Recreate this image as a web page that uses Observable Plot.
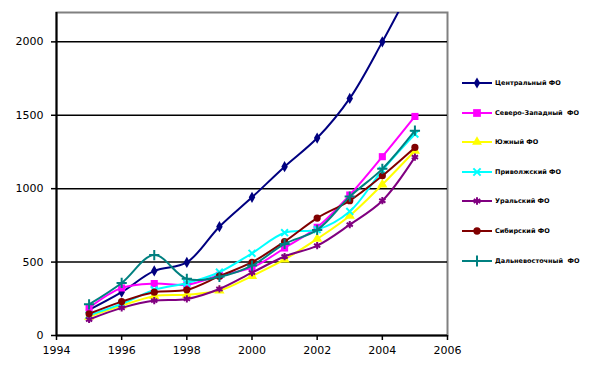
<!DOCTYPE html>
<html><head><meta charset="utf-8">
<script src="https://cdn.jsdelivr.net/npm/d3@7"></script>
<script src="https://cdn.jsdelivr.net/npm/@observablehq/plot@0.6"></script>
<style>
body{margin:0;background:#fff;}
#wrap{position:relative;width:593px;height:374px;overflow:hidden;}
#legend{position:absolute;left:0;top:0;font-family:"DejaVu Sans",sans-serif;font-size:6.5px;font-weight:bold;color:#000;}
.item{position:absolute;white-space:pre;display:flex;align-items:center;height:12px;}
.item span{letter-spacing:0px;margin-left:3px;}
</style></head><body><div id="wrap"><div id="chart"></div><div id="legend"></div></div>
<script>
const years = [1995, 1996, 1997, 1998, 1999, 2000, 2001, 2002, 2003, 2004, 2005];
const central   = [175, 295, 440, 498, 741, 941, 1150, 1345, 1615, 2000, 2420];
const northwest = [188, 324, 354, 345, 410, 462, 596, 737, 957, 1218, 1492];
const south     = [128, 204, 268, 278, 306, 405, 518, 658, 816, 1028, 1258];
const volga     = [138, 215, 311, 357, 431, 560, 700, 721, 845, 1125, 1372];
const ural      = [109, 188, 238, 249, 317, 428, 538, 612, 755, 918, 1215];
const siberia   = [148, 231, 295, 311, 404, 499, 640, 800, 918, 1088, 1281];
const fareast   = [212, 358, 548, 386, 400, 476, 624, 719, 946, 1135, 1395];

const names = ["Центральный ФО", "Северо-Западный  ФО", "Южный ФО", "Приволжский ФО", "Уральский ФО", "Сибирский ФО", "Дальневосточный  ФО"];
const colors = ["#000080", "#FF00FF", "#FFFF00", "#00FFFF", "#800080", "#800000", "#008080"];
const symbols = ["diamond", "square", "triangle", "times", "asterisk", "circle", "plus"];
const strokeSymbols = ["times", "asterisk", "plus"];
const series = [central, northwest, south, volga, ural, siberia, fareast];
const yTicks = [0, 500, 1000, 1500, 2000];
const xTicks = [1994, 1996, 1998, 2000, 2002, 2004, 2006];

const rows = series.flatMap((vals, i) => vals.map((v, j) => ({year: years[j], value: v, region: names[i]})));

const seriesMarks = names.flatMap((name, i) => {
  const data = rows.filter(r => r.region === name);
  const isStroke = strokeSymbols.includes(symbols[i]);
  const sizes = {square: 4, circle: 3.6, diamond: 3.4, triangle: 3.8, times: 3.2, asterisk: 3.4, plus: 3.4};
  return [
    Plot.line(data, {x: "year", y: "value", stroke: colors[i], strokeWidth: 2, curve: "catmull-rom", clip: true}),
    Plot.dot(data, isStroke
      ? {x: "year", y: "value", symbol: () => symbols[i], stroke: colors[i], strokeWidth: 2, r: sizes[symbols[i]], clip: true}
      : {x: "year", y: "value", symbol: () => symbols[i], fill: colors[i], stroke: "none", r: sizes[symbols[i]], clip: true})
  ];
});

const chart = Plot.plot({
  width: 593,
  height: 374,
  marginLeft: 56,
  marginRight: 146,
  marginTop: 12,
  marginBottom: 39,
  style: {fontFamily: "DejaVu Sans, sans-serif", fontSize: "11px", color: "#000", background: "#fff"},
  x: {domain: [1994, 2006]},
  y: {domain: [0, 2200]},
  symbol: {type: "identity"},
  marks: [
    Plot.frame({stroke: "#808080", strokeWidth: 2}),
    Plot.ruleY(yTicks.filter(d => d > 0), {stroke: "#000", strokeWidth: 1.5}),
    ...seriesMarks,
    Plot.ruleY([0], {stroke: "#000", strokeWidth: 2}),
    Plot.ruleX([1994], {stroke: "#000", strokeWidth: 2}),
    Plot.axisY({ticks: yTicks, tickSize: 5, tickPadding: 8, tickFormat: d => String(d), label: null, strokeWidth: 1.5}),
    Plot.axisX({ticks: xTicks, tickSize: 5, tickPadding: 6, tickFormat: d => String(d), label: null, strokeWidth: 1.5})
  ]
});
document.getElementById("chart").appendChild(chart);

// legend
const legend = document.getElementById("legend");
const legendY = [83, 113, 142, 172, 201, 231, 261];
names.forEach((name, i) => {
  const item = document.createElement("div");
  item.className = "item";
  item.style.left = "462px";
  item.style.top = (legendY[i] - 6) + "px";
  const isStroke = strokeSymbols.includes(symbols[i]);
  const symMap = {diamond: d3.symbolDiamond, square: d3.symbolSquare, triangle: d3.symbolTriangle, times: d3.symbolTimes, asterisk: d3.symbolAsterisk, circle: d3.symbolCircle, plus: d3.symbolPlus};
  const sizeMap = {diamond: 36, square: 60, triangle: 42, times: 36, asterisk: 40, circle: 42, plus: 40};
  const path = d3.symbol(symMap[symbols[i]], sizeMap[symbols[i]])();
  item.innerHTML = `<svg width="30" height="12" style="display:block"><line x1="0" x2="30" y1="6" y2="6" stroke="${colors[i]}" stroke-width="2"/><path transform="translate(15,6)" d="${path}" ${isStroke ? `fill="none" stroke="${colors[i]}" stroke-width="2"` : `fill="${colors[i]}"`}/></svg><span>${name}</span>`;
  legend.appendChild(item);
});
</script></body></html>
